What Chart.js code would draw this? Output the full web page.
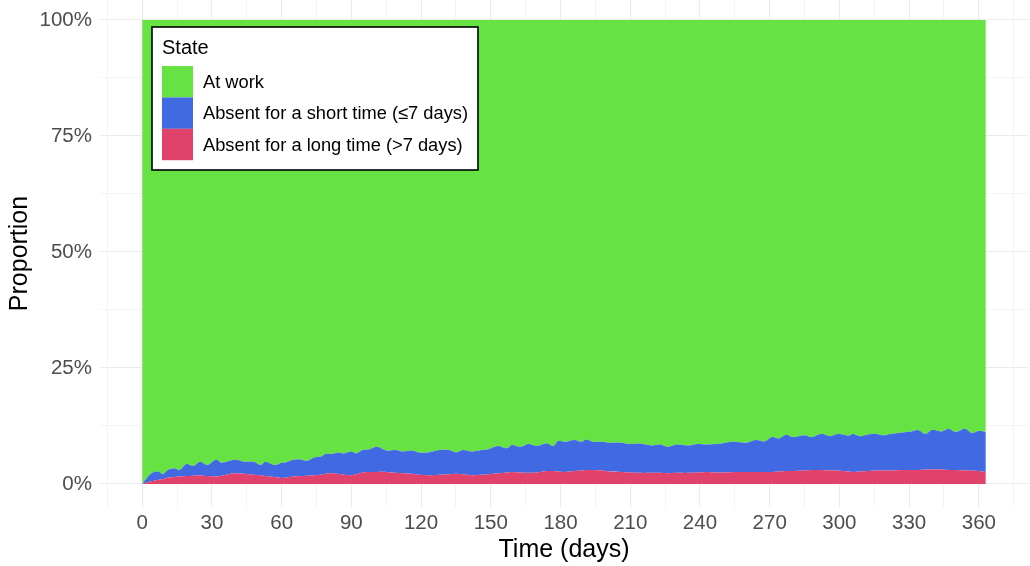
<!DOCTYPE html>
<html>
<head>
<meta charset="utf-8">
<script src="https://cdn.jsdelivr.net/npm/chart.js@4.4.1/dist/chart.umd.min.js"></script>
<style>
  html, body { margin: 0; padding: 0; background: #ffffff; }
  #wrap { position: relative; width: 1030px; height: 566px; }
</style>
</head>
<body>
<div id="wrap"><canvas id="c" width="1030" height="566"></canvas></div>
<script>
// ---- data ----
const days = [0,4,7,9,11,14,16,19,22,25,28,32,34,37,40,44,48,51,53,57,60,62,65,68,71,74,77,79,82,84,87,90,92,95,98,101,105,109,112,116,119,123,128,132,135,138,142,146,149,153,157,159,163,166,170,174,177,179,182,186,189,191,194,198,201,206,210,214,219,223,226,230,235,239,243,247,251,255,260,264,268,271,274,277,280,285,288,292,296,299,304,306,309,312,316,319,322,327,331,334,337,340,344,347,350,354,357,360,363];

// Absent for a long time (>7 days), percent
const longAbsence = [0,0.6,0.9,1.1,1.4,1.5,1.6,1.7,1.8,1.9,1.7,1.6,1.8,2.1,2.3,2.2,2.0,1.9,1.7,1.5,1.3,1.4,1.6,1.7,1.8,1.9,2.0,2.2,2.3,2.2,2.0,1.9,2.1,2.5,2.6,2.6,2.6,2.4,2.3,2.2,2.0,1.9,2.0,2.1,2.2,2.1,1.9,2.0,2.1,2.3,2.5,2.6,2.5,2.4,2.5,2.8,2.8,2.7,2.6,2.8,2.9,3.0,3.0,2.9,2.7,2.6,2.5,2.4,2.4,2.4,2.3,2.4,2.4,2.5,2.6,2.5,2.5,2.6,2.6,2.6,2.6,2.6,2.7,2.8,2.8,2.9,3.0,3.0,2.9,2.9,2.7,2.6,2.7,2.8,2.9,2.9,2.9,3.0,3.0,3.0,3.1,3.2,3.1,3.0,3.0,2.9,2.9,2.8,2.6];

// Absent for a short time (<=7 days), percent
const shortAbsence = [0,1.7,1.8,1.0,1.6,1.9,1.4,2.6,2.1,2.9,2.4,3.7,2.8,2.8,2.9,2.6,2.8,2.2,3.1,2.6,3.3,3.3,3.6,3.6,3.2,3.8,3.9,4.3,4.2,4.6,4.6,5.1,4.5,4.8,4.9,5.4,4.6,4.9,4.7,5.0,4.8,4.9,5.3,5.2,4.6,5.2,5.1,5.3,5.4,5.9,5.2,5.8,5.5,6.2,5.7,6.0,5.4,6.6,6.5,6.7,6.2,6.6,6.1,6.2,6.2,6.3,6.1,6.3,5.9,6.1,5.7,6.1,5.9,6.1,5.9,6.1,6.4,6.5,6.3,6.9,6.6,7.5,7.1,7.8,7.3,7.6,7.1,7.8,7.4,7.9,7.7,8.2,7.6,7.8,7.9,7.6,7.9,8.1,8.3,8.6,7.7,8.5,8.2,8.9,8.2,9.0,8.1,8.6,8.6];

// At work = remainder of the 100 %
const atWork = days.map((d, i) => +(100 - longAbsence[i] - shortAbsence[i]).toFixed(1));

const seriesLabels = ["At work", "Absent for a short time (\u22647 days)", "Absent for a long time (>7 days)"];
const xTickValues = [-15,0,15,30,45,60,75,90,105,120,135,150,165,180,195,210,225,240,255,270,285,300,315,330,345,360,375];
const yTickValues = [0,12.5,25,37.5,50,62.5,75,87.5,100];

// ---- styles ----
const COL_WORK = "#67e243";
const COL_SHORT = "#4169e1";
const COL_LONG = "#e0426b";
const GRID = "#ebebeb";
const FONT = "'Liberation Sans', Arial, Helvetica, sans-serif";

const pts = arr => days.map((d, i) => ({ x: d, y: arr[i] }));

const legendPlugin = {
  id: "stateLegend",
  afterDraw(chart) {
    const ctx = chart.ctx;
    const a = chart.chartArea;
    const x0 = a.left + 52, y0 = 27, w = 326, h = 143;
    ctx.save();
    ctx.fillStyle = "#ffffff";
    ctx.fillRect(x0, y0, w, h);
    ctx.strokeStyle = "#000000";
    ctx.lineWidth = 1.6;
    ctx.strokeRect(x0, y0, w, h);
    ctx.fillStyle = "#000000";
    ctx.font = "20px " + FONT;
    ctx.textBaseline = "alphabetic";
    ctx.textAlign = "left";
    ctx.fillText("State", x0 + 10, y0 + 27);
    const order = [2, 1, 0];
    const keyX = x0 + 10, keyW = 31, keyH = 31.4, keyY0 = y0 + 39;
    ctx.font = "18.3px " + FONT;
    ctx.textBaseline = "middle";
    order.forEach((di, k) => {
      const ds = chart.data.datasets[di];
      const ky = keyY0 + k * keyH;
      ctx.fillStyle = ds.backgroundColor;
      ctx.fillRect(keyX, ky, keyW, keyH);
      ctx.fillStyle = "#000000";
      ctx.fillText(ds.label, keyX + 41, ky + keyH / 2 + 1);
    });
    ctx.restore();
  }
};

new Chart(document.getElementById("c"), {
  type: "line",
  data: {
    datasets: [
      { label: seriesLabels[2], data: pts(longAbsence), backgroundColor: COL_LONG, borderColor: COL_LONG, fill: "origin" },
      { label: seriesLabels[1], data: pts(shortAbsence), backgroundColor: COL_SHORT, borderColor: COL_SHORT, fill: "-1" },
      { label: seriesLabels[0], data: pts(atWork), backgroundColor: COL_WORK, borderColor: COL_WORK, fill: "-1" }
    ]
  },
  options: {
    responsive: false,
    animation: false,
    devicePixelRatio: 1,
    layout: { padding: { top: 0, right: 2, left: 0, bottom: 0 } },
    elements: { point: { radius: 0 }, line: { borderWidth: 0, tension: 0.35 } },
    plugins: { legend: { display: false }, tooltip: { enabled: false } },
    scales: {
      x: {
        type: "linear",
        min: -18.15,
        max: 381.15,
        afterBuildTicks: s => { s.ticks = xTickValues.map(v => ({ value: v })); },
        afterFit: s => { s.height = 59; s.paddingLeft = 0; s.paddingRight = 0; },
        border: { display: false },
        grid: {
          color: GRID,
          drawTicks: false,
          lineWidth: c => (c.tick && c.tick.value % 30 === 0) ? 1.1 : 0.55
        },
        ticks: {
          autoSkip: false, maxRotation: 0, padding: 4,
          color: "#4d4d4d",
          font: { family: FONT, size: 20.5 },
          callback: v => (v % 30 === 0 && v >= 0 && v <= 360) ? String(v) : ""
        },
        title: {
          display: true, text: "Time (days)", color: "#000000",
          font: { family: FONT, size: 25 },
          padding: { top: 0, bottom: 1 }
        }
      },
      y: {
        stacked: true,
        min: -4.96,
        max: 104.31,
        afterBuildTicks: s => { s.ticks = yTickValues.map(v => ({ value: v })); },
        afterFit: s => { s.width = 100; s.paddingTop = 0; s.paddingBottom = 0; },
        border: { display: false },
        grid: {
          color: GRID,
          drawTicks: false,
          lineWidth: c => (c.tick && c.tick.value % 25 === 0) ? 1.1 : 0.55
        },
        ticks: {
          autoSkip: false, padding: 8,
          color: "#4d4d4d",
          font: { family: FONT, size: 20.5 },
          callback: v => (v % 25 === 0) ? v + "%" : ""
        },
        title: {
          display: true, text: "Proportion", color: "#000000",
          font: { family: FONT, size: 25 },
          padding: { top: 5, bottom: 5 }
        }
      }
    }
  },
  plugins: [legendPlugin]
});
</script>
</body>
</html>
